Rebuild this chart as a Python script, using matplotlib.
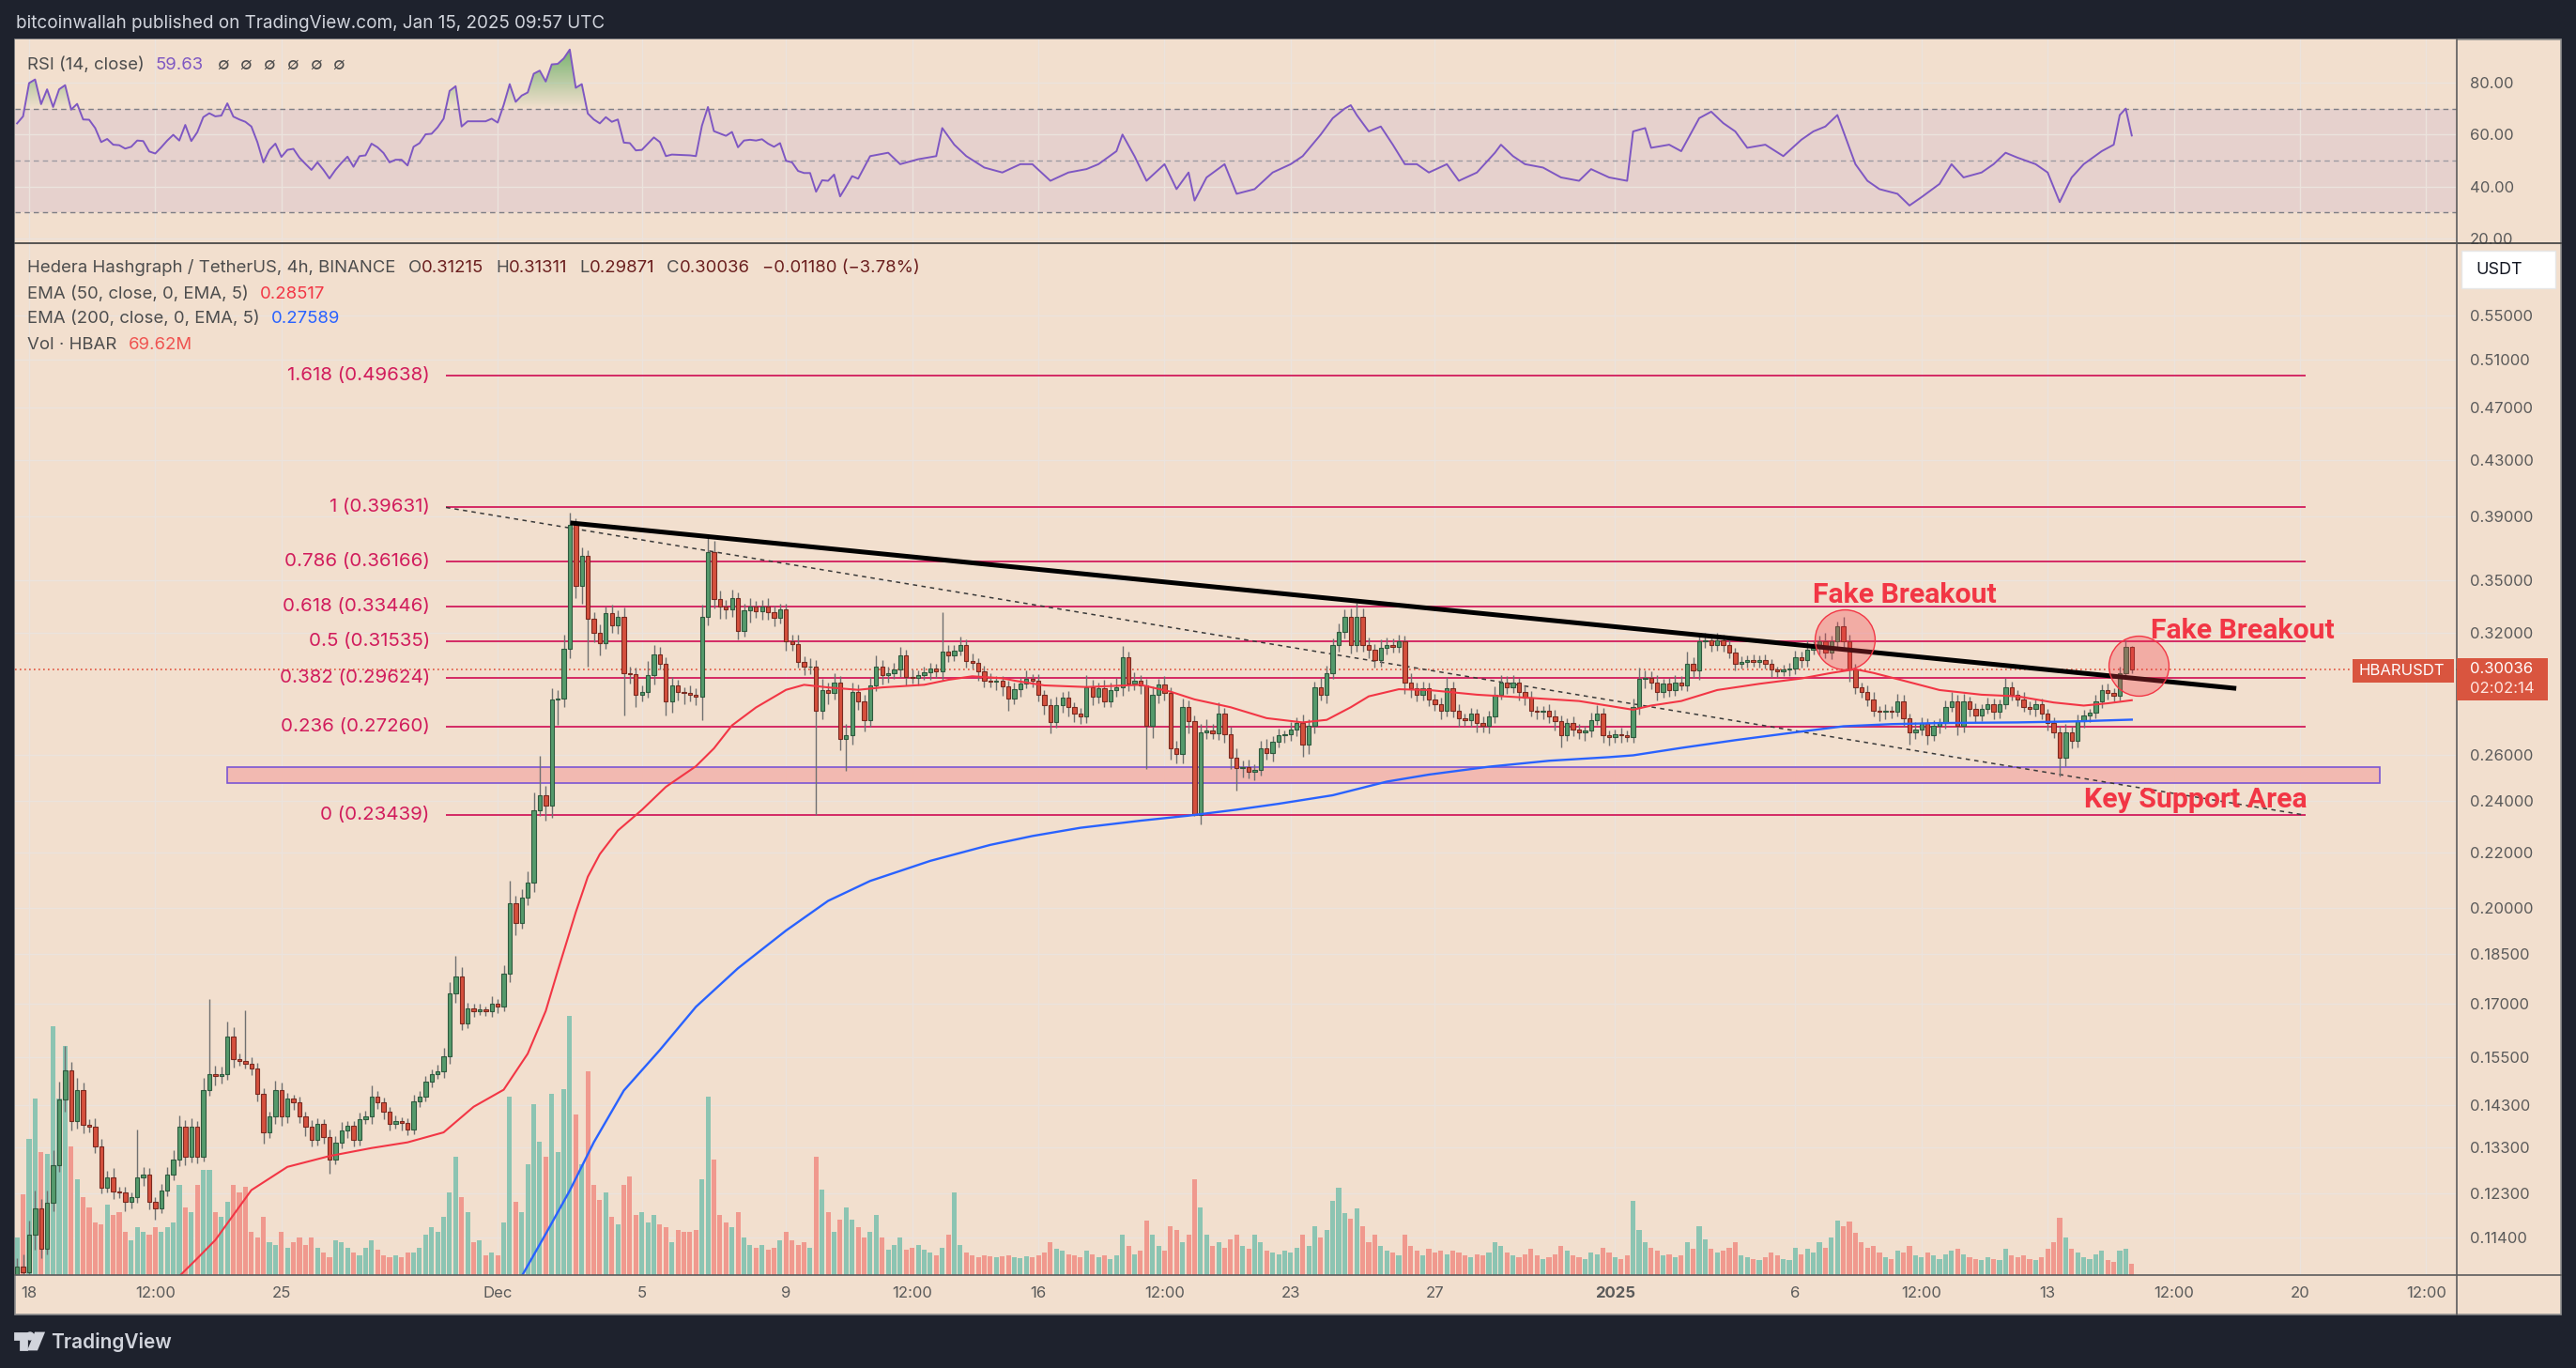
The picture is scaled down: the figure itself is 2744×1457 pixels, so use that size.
import matplotlib
matplotlib.use("Agg")
import matplotlib.pyplot as plt
import numpy as np
from matplotlib.patches import Rectangle, Polygon, Ellipse
from matplotlib.lines import Line2D
from matplotlib.path import Path
from matplotlib.colors import to_rgb

plt.rcParams['font.family'] = ['Inter', 'DejaVu Sans']

W, H, DPI = 2744, 1457, 200
BG = '#f2dfce'
DARK = '#1e222d'
GRID = '#ebe3dd'
TXT = '#4d4d4d'
AXT = '#5a5a5a'

# ---------------- data ----------------
# 4h candles, first one = Nov 17 16:00 (candle index -2), one row per day
first_index = -2
first_open = 0.1070
close = [
    0.1085, 0.1075,                                   # Nov 17
    0.1145, 0.1199, 0.1118, 0.1210, 0.1290, 0.1443,   # Nov 18
    0.1516, 0.1390, 0.1467, 0.1382, 0.1377, 0.1332,
    0.1242, 0.1264, 0.1233, 0.1231, 0.1211, 0.1221,
    0.1264, 0.1270, 0.1211, 0.1199, 0.1236, 0.1270,
    0.1303, 0.1377, 0.1309, 0.1377, 0.1309, 0.1467,
    0.1507, 0.1501, 0.1507, 0.1607, 0.1546, 0.1542,
    0.1533, 0.1520, 0.1456, 0.1365, 0.1401, 0.1467,
    0.1401, 0.1444, 0.1435, 0.1401, 0.1377, 0.1347,   # Nov 25
    0.1383, 0.1354, 0.1303, 0.1341, 0.1368, 0.1380,
    0.1347, 0.1395, 0.1401, 0.1450, 0.1435, 0.1413,
    0.1383, 0.1391, 0.1386, 0.1371, 0.1438, 0.1450,
    0.1488, 0.1507, 0.1513, 0.1553, 0.1729, 0.1781,
    0.1642, 0.1685, 0.1678, 0.1682, 0.1678, 0.1700,
    0.1690, 0.1789, 0.2018, 0.1950, 0.2036, 0.2088,   # Dec 1
    0.2365, 0.2426, 0.2381, 0.2856, 0.2861, 0.3112,
    0.3850, 0.3465, 0.3647, 0.3276, 0.3198, 0.3144,
    0.3307, 0.3241, 0.3290, 0.2988, 0.2980, 0.2879,
    0.2894, 0.2975, 0.3086, 0.3037, 0.2848, 0.2925,
    0.2894, 0.2890, 0.2880, 0.2871, 0.3290, 0.3671,
    0.3388, 0.3344, 0.3330, 0.3395, 0.3212, 0.3325,
    0.3344, 0.3322, 0.3344, 0.3313, 0.3283, 0.3330,
    0.3152, 0.3140, 0.3045, 0.3020, 0.3020, 0.2803,   # Dec 9
    0.2902, 0.2890, 0.2941, 0.2671, 0.2686, 0.2894,
    0.2848, 0.2758, 0.2925, 0.3020, 0.2975, 0.2988,
    0.3004, 0.3078, 0.2968, 0.2962, 0.2975, 0.2990,
    0.3010, 0.2995, 0.3098, 0.3080, 0.3105, 0.3132,
    0.3050, 0.3040, 0.2995, 0.2950, 0.2945, 0.2950,
    0.2920, 0.2860, 0.2905, 0.2933, 0.2957, 0.2950,
    0.2879, 0.2826, 0.2750, 0.2826, 0.2863, 0.2818,   # Dec 16
    0.2788, 0.2773, 0.2917, 0.2871, 0.2910, 0.2848,
    0.2902, 0.2917, 0.3069, 0.2933, 0.2949, 0.2925,
    0.2729, 0.2879, 0.2930, 0.2886, 0.2629, 0.2601,
    0.2818, 0.2751, 0.2344, 0.2700, 0.2707, 0.2697,
    0.2788, 0.2693, 0.2587, 0.2539, 0.2546, 0.2526,
    0.2532, 0.2629, 0.2608, 0.2657, 0.2686, 0.2689,
    0.2714, 0.2743, 0.2643, 0.2729, 0.2917, 0.2879,   # Dec 23
    0.2988, 0.3136, 0.3203, 0.3289, 0.3136, 0.3289,
    0.3136, 0.3110, 0.3053, 0.3119, 0.3136, 0.3125,
    0.3152, 0.2941, 0.2910, 0.2879, 0.2910, 0.2856,
    0.2833, 0.2803, 0.2910, 0.2803, 0.2766, 0.2758,
    0.2788, 0.2743, 0.2729, 0.2773, 0.2879, 0.2941,
    0.2917, 0.2941, 0.2894, 0.2863, 0.2803, 0.2795,
    0.2803, 0.2773, 0.2751, 0.2686, 0.2743, 0.2714,   # Dec 30
    0.2700, 0.2707, 0.2758, 0.2788, 0.2686, 0.2679,
    0.2693, 0.2686, 0.2679, 0.2818, 0.2957, 0.2965,   # Jan 1
    0.2941, 0.2894, 0.2933, 0.2902, 0.2941, 0.2925,
    0.3037, 0.3000, 0.3152, 0.3160, 0.3136, 0.3160,
    0.3136, 0.3094, 0.3037, 0.3045, 0.3053, 0.3045,
    0.3053, 0.3037, 0.3004, 0.2996, 0.3004, 0.3012,
    0.3069, 0.3053, 0.3110, 0.3119, 0.3152, 0.3094,   # Jan 6
    0.3152, 0.3238, 0.3152, 0.3004, 0.2917, 0.2894,
    0.2856, 0.2803, 0.2795, 0.2803, 0.2795, 0.2848,
    0.2766, 0.2700, 0.2714, 0.2743, 0.2686, 0.2729,
    0.2743, 0.2818, 0.2848, 0.2729, 0.2848, 0.2810,
    0.2780, 0.2810, 0.2833, 0.2795, 0.2833, 0.2917,
    0.2879, 0.2856, 0.2818, 0.2810, 0.2833, 0.2788,
    0.2743, 0.2700, 0.2587, 0.2700, 0.2660, 0.2751,   # Jan 13
    0.2780, 0.2790, 0.2845, 0.2900, 0.2890, 0.2875,
    0.2988, 0.31215, 0.30036,                         # Jan 15
]

# upper / lower wicks, per mille of the body edge
up_wick = [
    15, 20,
    25, 30, 15, 20, 25, 30,  42, 15, 20, 12, 10, 15,  12, 10, 15, 8, 10, 8,
    85, 12, 10, 8, 10, 12,  15, 20, 12, 15, 10, 20,  136, 15, 12, 25, 15, 10,
    90, 12, 10, 10, 8, 15,  12, 10, 8, 10, 8, 12,  10, 8, 12, 10, 15, 8,
    8, 12, 10, 20, 10, 8,  8, 10, 6, 8, 12, 10,  10, 8, 12, 15, 20, 36,
    15, 10, 8, 10, 6, 12,  8, 15, 39, 12, 15, 20,  30, 70, 15, 20, 15, 25,
    20, 10, 15, 10, 12, 15,  12, 15, 10, 15, 10, 12,  10, 25, 15, 12, 10, 15,
    10, 8, 12, 10, 20, 27,  20, 15, 12, 15, 10, 12,  15, 10, 12, 15, 12, 10,
    10, 12, 15, 10, 15, 12,  20, 12, 15, 10, 20, 15,  12, 10, 15, 20, 12, 10,
    12, 15, 10, 12, 8, 10,  10, 8, 70, 12, 10, 15,  10, 12, 8, 10, 12, 8,
    8, 10, 12, 10, 15, 8,  10, 8, 12, 15, 10, 12,  8, 10, 20, 12, 10, 15,
    12, 15, 20, 10, 15, 10,  12, 15, 10, 15, 10, 12,  15, 12, 10, 15, 20, 12,
    20, 10, 12, 15, 10, 12,  10, 12, 15, 10, 12, 8,  12, 10, 15, 12, 10, 15,
    12, 10, 15, 12, 15, 24,  15, 12, 10, 15, 12, 10,  12, 10, 15, 10, 12, 10,
    10, 12, 20, 12, 10, 8,  10, 8, 12, 10, 15, 12,  10, 12, 8, 10, 12, 8,
    8, 10, 12, 10, 8, 12,  10, 8, 12, 15, 10, 8,  8, 10, 8, 15, 20, 12,
    10, 12, 8, 10, 12, 10,  20, 10, 15, 12, 10, 12,  10, 12, 8, 10, 8, 10,
    8, 10, 8, 6, 8, 10,  12, 10, 15, 12, 10, 15,  10, 8, 15, 12, 10, 8,
    10, 12, 8, 10, 8, 12,  10, 8, 12, 10, 8, 10,  8, 12, 15, 10, 12, 8,
    10, 8, 12, 10, 8, 16,  10, 8, 12, 10, 8, 10,  8, 10, 12, 15, 10, 12,
    10, 8, 12, 10, 12, 8,  10, 12, 3,
]
low_wick = [
    10, 12,
    20, 25, 15, 10, 15, 12,  20, 15, 12, 15, 10, 12,  10, 8, 12, 10, 15, 10,
    10, 15, 12, 20, 8, 10,  10, 12, 15, 10, 12, 8,  10, 15, 12, 10, 15, 8,
    8, 10, 12, 20, 10, 12,  15, 10, 12, 10, 15, 12,  10, 12, 25, 8, 10, 12,
    12, 10, 8, 12, 10, 12,  10, 8, 12, 10, 8, 10,  8, 10, 8, 10, 12, 15,
    10, 8, 10, 6, 8, 10,  10, 8, 15, 20, 10, 12,  15, 10, 25, 20, 42, 15,
    15, 20, 30, 78, 15, 20,  10, 12, 15, 70, 15, 20,  12, 10, 15, 10, 25, 20,
    15, 20, 12, 15, 40, 15,  15, 20, 15, 12, 15, 10,  20, 12, 15, 12, 15, 10,
    15, 12, 10, 15, 12, 164,  15, 20, 12, 20, 54, 15,  15, 20, 12, 10, 15, 12,
    10, 12, 15, 10, 12, 8,  12, 10, 15, 12, 10, 8,  12, 10, 15, 12, 10, 15,
    15, 20, 10, 12, 8, 12,  12, 15, 20, 10, 12, 15,  15, 12, 10, 15, 12, 10,
    10, 12, 15, 12, 10, 15,  70, 20, 15, 12, 20, 15,  15, 20, 2, 15, 12, 10,
    12, 15, 20, 37, 15, 12,  15, 10, 12, 15, 10, 12,  10, 12, 20, 15, 12, 10,
    15, 10, 12, 10, 15, 12,  12, 15, 12, 10, 12, 10,  10, 20, 15, 12, 10, 12,
    12, 15, 10, 12, 15, 10,  12, 15, 10, 12, 10, 8,  12, 10, 15, 12, 10, 12,
    12, 10, 15, 20, 10, 12,  12, 15, 10, 8, 12, 15,  10, 12, 8, 10, 12, 15,
    12, 15, 10, 12, 10, 8,  10, 12, 15, 10, 12, 10,  12, 10, 12, 8, 10, 8,
    10, 8, 12, 10, 8, 10,  10, 12, 10, 8, 12, 10,  12, 10, 15, 20, 12, 10,
    12, 10, 15, 12, 10, 8,  15, 20, 12, 10, 15, 10,  12, 10, 8, 15, 10, 12,
    12, 10, 8, 12, 10, 8,  10, 12, 8, 10, 12, 10,  12, 10, 32, 15, 12, 10,
    10, 12, 8, 10, 12, 10,  8, 10, 5,
]

# volume per candle, millions HBAR
volume = [
    233, 500,
    839, 1087, 761, 746, 1538, 1087,  1414, 792, 590, 482, 419, 326,
    311, 435, 373, 388, 264, 217,  295, 264, 249, 295, 264, 295,
    326, 559, 419, 388, 559, 652,  652, 388, 357, 451, 559, 513,
    544, 264, 233, 357, 202, 186,  264, 171, 202, 233, 186, 233,
    171, 140, 109, 217, 202, 171,  140, 124, 171, 217, 155, 124,
    109, 124, 109, 140, 140, 171,  249, 295, 264, 357, 513, 730,
    482, 388, 202, 217, 124, 140,  124, 326, 1103, 451, 388, 684,
    1056, 823, 730, 1119, 761, 1150,  1600, 994, 684, 1258, 559, 466,
    513, 357, 311, 559, 606, 373,  388, 326, 373, 311, 295, 202,
    280, 264, 264, 280, 590, 1103,  715, 373, 326, 295, 388, 233,
    186, 171, 186, 155, 171, 217,  264, 217, 186, 202, 171, 730,
    528, 388, 264, 342, 419, 342,  295, 233, 264, 373, 233, 155,
    186, 233, 155, 171, 186, 155,  140, 124, 171, 249, 513, 186,
    140, 124, 109, 124, 115, 109,  115, 124, 109, 103, 115, 109,
    120, 140, 200, 160, 150, 130,  120, 110, 150, 130, 110, 120,
    100, 120, 250, 180, 130, 150,  335, 250, 180, 150, 300, 280,
    200, 250, 590, 420, 250, 180,  200, 170, 220, 250, 180, 160,
    250, 200, 150, 140, 130, 150,  140, 170, 250, 180, 300, 230,
    280, 460, 540, 380, 350, 410,  300, 200, 250, 180, 150, 140,
    120, 250, 180, 150, 120, 160,  140, 150, 130, 150, 140, 120,
    110, 130, 120, 140, 200, 180,  140, 120, 110, 130, 160, 120,
    100, 110, 130, 180, 150, 120,  110, 100, 140, 130, 170, 140,
    110, 100, 120, 460, 280, 200,  170, 150, 120, 130, 110, 120,
    200, 160, 300, 220, 160, 140,  150, 170, 200, 120, 110, 100,
    90, 110, 140, 120, 100, 90,  170, 130, 160, 140, 200, 170,
    230, 335, 300, 330, 260, 200,  170, 180, 140, 110, 100, 150,
    140, 180, 120, 110, 140, 120,  100, 130, 150, 160, 130, 110,
    100, 90, 110, 100, 90, 160,  120, 110, 120, 100, 90, 110,
    160, 200, 355, 230, 160, 140,  110, 100, 130, 150, 90, 80,
    150, 160, 70,
]

# (candle index, value)
ema50_pts = [
    (24, 0.1055), (25, 0.1067), (28, 0.1100), (31, 0.1135), (37, 0.1236), (43, 0.1286),
    (50, 0.1310), (57, 0.1328), (63, 0.1341), (69, 0.1364), (74, 0.1425), (79, 0.1467),
    (83, 0.1560), (86, 0.1678), (88, 0.1797), (91, 0.1986), (93, 0.2110), (95, 0.2193),
    (98, 0.2283), (102, 0.2365), (106, 0.2460), (111, 0.2548), (114, 0.2627), (117, 0.2732),
    (121, 0.2817), (126, 0.2903), (129, 0.2928), (133, 0.2915), (138, 0.2903), (142, 0.2915),
    (149, 0.2928), (153, 0.2953), (157, 0.2971), (162, 0.2961), (164, 0.2949), (169, 0.2925),
    (176, 0.2917), (185, 0.2928), (190, 0.2894), (194, 0.2856), (200, 0.2818), (206, 0.2766),
    (212, 0.2746), (216, 0.2758), (220, 0.2818), (223, 0.2871), (228, 0.2906), (233, 0.2902),
    (241, 0.2879), (250, 0.2863), (258, 0.2848), (267, 0.2806), (270, 0.2826), (275, 0.2848),
    (281, 0.2902), (288, 0.2933), (295, 0.2960), (300, 0.2988), (304, 0.3007), (307, 0.2988),
    (312, 0.2949), (318, 0.2902), (325, 0.2879), (331, 0.2871), (337, 0.2841), (342, 0.2826),
    (346, 0.2837), (350, 0.2852),
]
ema200_pts = [
    (81, 0.1055), (82, 0.1067), (86, 0.1147), (90, 0.1235), (94, 0.1341), (99, 0.1465),
    (105, 0.1570), (111, 0.1690), (118, 0.1805), (126, 0.1925), (133, 0.2025), (140, 0.2095),
    (150, 0.2168), (160, 0.2228), (167, 0.2262), (175, 0.2294), (185, 0.2322), (193, 0.2342),
    (201, 0.2366), (208, 0.2390), (217, 0.2425), (226, 0.2482), (233, 0.2512), (243, 0.2546),
    (253, 0.2572), (263, 0.2588), (267, 0.2596), (275, 0.2629), (284, 0.2664), (294, 0.2700),
    (302, 0.2728), (310, 0.2738), (318, 0.2743), (331, 0.2746), (341, 0.2751), (350, 0.2759),
]

# RSI(14): one value per candle for -2 .. 135, then sparser points
rsi_head = [
    64.3, 67.0, 79.8, 81.2, 71.7, 77.4, 70.6, 77.4, 79.0, 69.6,
    71.8, 65.8, 65.7, 62.5, 57.1, 58.3, 56.1, 55.9, 54.6, 55.3,
    57.7, 57.5, 53.5, 52.7, 55.1, 57.7, 59.9, 57.7, 63.7, 57.5,
    60.9, 66.7, 68.2, 67.0, 67.3, 72.0, 66.9, 65.8, 64.9, 63.1,
    57.1, 49.3, 54.1, 56.5, 51.4, 54.1, 54.5, 51.1, 48.7, 46.4,
    49.3, 46.4, 43.1, 46.4, 49.1, 51.5, 47.6, 51.7, 52.0, 56.5,
    55.1, 52.9, 49.3, 50.3, 50.3, 48.1, 55.3, 56.7, 60.1, 60.3,
    62.8, 66.1, 76.8, 78.6, 63.1, 65.1, 65.1, 65.1, 65.1, 66.1,
    64.6, 71.4, 79.4, 72.6, 75.0, 76.2, 83.4, 84.6, 80.4, 87.0,
    87.2, 89.3, 92.7, 78.0, 79.4, 68.1, 65.8, 64.3, 66.7, 64.9,
    65.8, 56.9, 56.7, 53.9, 54.1, 56.5, 58.9, 57.1, 51.7, 52.3,
    52.2, 52.1, 52.0, 51.7, 63.4, 70.6, 61.3, 60.4, 59.5, 61.0,
    55.1, 57.7, 58.0, 57.7, 58.2, 56.5, 55.3, 56.7, 49.9, 49.3,
    46.0, 45.2, 45.2, 38.0, 42.4, 42.2, 44.6, 36.2,
]
rsi_tail = [
    (136, 40.0), (137, 44.0), (138, 43.0), (140, 51.7), (143, 53.0), (145, 48.6),
    (148, 50.5), (151, 51.7), (152, 62.5), (154, 56.1), (156, 51.7), (159, 47.3),
    (162, 45.4), (165, 48.6), (167, 48.6), (170, 42.2), (173, 45.4), (176, 46.7),
    (178, 48.6), (181, 53.6), (182, 60.0), (184, 51.7), (186, 42.2), (189, 48.6),
    (191, 39.0), (193, 45.4), (194, 34.6), (196, 43.5), (199, 48.6), (201, 37.2),
    (204, 39.0), (207, 45.4), (210, 48.6), (212, 51.7), (215, 60.0), (217, 66.3),
    (219, 70.0), (220, 71.3), (221, 67.5), (223, 61.2), (225, 63.1), (227, 56.1),
    (229, 48.6), (231, 48.6), (233, 45.4), (236, 48.6), (238, 42.2), (241, 45.4),
    (244, 53.0), (245, 56.1), (247, 51.7), (249, 48.6), (252, 47.3), (255, 43.5),
    (258, 42.2), (260, 46.7), (263, 43.5), (266, 42.2), (267, 61.2), (269, 62.5),
    (270, 54.9), (273, 56.1), (275, 53.6), (278, 66.3), (280, 68.8), (282, 64.4),
    (284, 61.2), (286, 54.9), (289, 56.1), (292, 51.7), (295, 58.0), (297, 61.2),
    (299, 63.1), (301, 67.5), (304, 48.6), (306, 42.2), (308, 39.0), (311, 37.2),
    (313, 32.7), (315, 35.9), (318, 41.0), (320, 48.6), (322, 43.5), (325, 45.4),
    (327, 48.6), (329, 53.0), (331, 51.1), (334, 48.6), (336, 45.4), (338, 34.0),
    (340, 43.5), (342, 48.6), (345, 53.6), (347, 56.1), (348, 67.5), (349, 70.0),
    (350, 59.63),
]

fib_names = ['1.618', '1', '0.786', '0.618', '0.5', '0.382', '0.236', '0']
fib_prices = [0.49638, 0.39631, 0.36166, 0.33446, 0.31535, 0.29624, 0.27260, 0.23439]
fib_start, fib_end = 69.4, 378.9

trend_x = [90.1, 367.4]
trend_y = [0.3860, 0.2910]
support = (32.9, 391.3, 0.2476, 0.2545)   # x0, x1, low, high
breakouts = [(302.2, 0.3164), (351.2, 0.3027)]
notes = [('Fake Breakout', 296.9, 0.3412), ('Fake Breakout', 353.1, 0.3210),
         ('Key Support Area', 342.0, 0.2406)]
last_price = 0.30036

price_ticks = [0.114, 0.123, 0.133, 0.143, 0.155, 0.17, 0.185, 0.20, 0.22, 0.24, 0.26,
               0.32, 0.35, 0.39, 0.43, 0.47, 0.51, 0.55]
rsi_ticks = [20, 40, 60, 80]
xtick_pos = [0, 21, 42, 78, 102, 126, 147, 168, 189, 210, 234, 264, 294, 315, 336, 357, 378, 399]
xtick_lab = ['18', '12:00', '25', 'Dec', '5', '9', '12:00', '16', '12:00', '23', '27',
             '2025', '6', '12:00', '13', '12:00', '20', '12:00']

assert len(close) == len(up_wick) == len(low_wick) == len(volume) == 353

# ---------------- candles ----------------
close = np.array(close)
idx = np.arange(first_index, first_index + len(close))
opens = np.concatenate([[first_open], close[:-1]])
up = close >= opens
body_top = np.maximum(opens, close)
body_bot = np.minimum(opens, close)
high = body_top * (1 + np.array(up_wick) / 1000)
low = body_bot * (1 - np.array(low_wick) / 1000)

P_BOT, P_TOP = 0.10692, 0.6222
VOL_TOP = 6371
XMIN, XMAX = -2.34, 404.1


def fpx(x, y):
    return x / W, 1 - y / H


fig = plt.figure(figsize=(W / DPI, H / DPI), dpi=DPI)
fig.patch.set_facecolor(DARK)
fig.add_artist(Rectangle(fpx(16, 1400), 2712 / W, 1358 / H, transform=fig.transFigure,
                         facecolor=BG, edgecolor='#8f8f8f', lw=0.6, zorder=-1))

ax_rsi = fig.add_axes([16 / W, 1 - 259 / H, 2601 / W, 217 / H])
ax = fig.add_axes([16 / W, 1 - 1358 / H, 2601 / W, 1099 / H], sharex=ax_rsi)
ax_vol = ax.twinx()
ax_rsi.set_zorder(0)
ax_vol.set_zorder(1)
ax.set_zorder(2)
ax.patch.set_visible(False)
ax_vol.patch.set_visible(True)
ax_vol.patch.set_facecolor(BG)
ax_rsi.set_facecolor(BG)
for a in (ax, ax_vol, ax_rsi):
    for s in a.spines.values():
        s.set_visible(False)

ax.set_yscale('log')

# grid + volume (in the bottom layer)
for x in xtick_pos:
    ax_vol.axvline(x, color=GRID, lw=0.5, zorder=0)
    ax_rsi.axvline(x, color=GRID, lw=0.5, zorder=0.5)
for p in price_ticks:
    ax_vol.plot([0, 1], [p, p], transform=ax.get_yaxis_transform(), color=GRID, lw=0.5, zorder=0)
vcol = np.where(up, '#8cc4b2', '#f0998e')
ax_vol.bar(idx, volume, width=0.8, color=vcol, linewidth=0, zorder=1)
ax_vol.set_ylim(0, VOL_TOP)
ax_vol.set_yticks([])

# support zone, fib levels, diagonals
x0, x1, lo, hi = support
ax.add_patch(Rectangle((x0, lo), x1 - x0, hi - lo, facecolor='#f2b9b1', edgecolor='#7b55d3',
                       lw=0.6, zorder=1.5))
FIB = '#d11c5c'
ax.hlines(fib_prices, fib_start, fib_end, colors=FIB, lw=0.65, zorder=2)
for name, p in zip(fib_names, fib_prices):
    ax.text(66.7, p, f'{name} ({p:.5f})', ha='right', va='center', color=FIB, fontsize=7.4, zorder=7)
ax.plot([fib_start, fib_end], [fib_prices[1], fib_prices[-1]], color='#3a3a3a', lw=0.55,
        ls=(0, (3, 3)), zorder=2.5)
ax.axhline(last_price, color='#e0533f', lw=0.6, ls=(0, (1, 2)), zorder=2.4)

ax.vlines(idx, low, high, colors='#707070', lw=0.5, zorder=3.5)
ax.bar(idx, body_top - body_bot, width=0.68, bottom=body_bot,
       color=np.where(up, '#559a6c', '#d5503d'),
       edgecolor=np.where(up, '#2f5a3e', '#7a2a20'), linewidth=0.4, zorder=4)

ex, ev = zip(*ema50_pts)
ax.plot(ex, ev, color='#f23645', lw=0.75, zorder=4.5)
ex, ev = zip(*ema200_pts)
ax.plot(ex, ev, color='#2962ff', lw=0.85, zorder=4.5)

ax.plot(trend_x, trend_y, color='black', lw=1.8, solid_capstyle='butt', zorder=5)
for bx, by in breakouts:
    ax.plot([bx], [by], 'o', ms=23, mfc=(0.949, 0.212, 0.271, 0.3), mec='#f23645', mew=0.5, zorder=6)
for s, tx, ty in notes:
    ax.text(tx, ty, s, ha='left', va='center', color='#f23645', fontsize=10.9, fontweight='bold',
            family=['Roboto', 'DejaVu Sans'], zorder=7)

ax.set_ylim(P_BOT, P_TOP)
ax.yaxis.tick_right()
ax.yaxis.set_major_locator(matplotlib.ticker.FixedLocator(price_ticks))
ax.yaxis.set_minor_locator(matplotlib.ticker.NullLocator())
ax.yaxis.set_major_formatter(matplotlib.ticker.FormatStrFormatter('%.5f'))
ax.tick_params(axis='y', length=0, pad=5, labelsize=6, labelcolor=AXT)
ax.set_xticks(xtick_pos)
ax.set_xticklabels(xtick_lab)
ax.tick_params(axis='x', length=0, pad=4.3, labelsize=6, labelcolor=AXT)
ax.get_xticklabels()[xtick_lab.index('2025')].set_fontweight('bold')

# ---------------- RSI ----------------
rx = np.array(list(range(first_index, 136)) + [p[0] for p in rsi_tail], float)
rv = np.array(rsi_head + [p[1] for p in rsi_tail])
ax_rsi.axhspan(30, 70, color='#e6d1cd', zorder=0.2, lw=0)
for v in rsi_ticks:
    ax_rsi.axhline(v, color=GRID, lw=0.5, zorder=0.5)
ax_rsi.axhline(70, color='#7d7d84', lw=0.5, ls=(0, (4, 3)), zorder=1)
ax_rsi.axhline(30, color='#7d7d84', lw=0.5, ls=(0, (4, 3)), zorder=1)
ax_rsi.axhline(50, color='#9d9aa2', lw=0.5, ls=(0, (4, 3)), zorder=1)
fill = ax_rsi.fill_between(rx, 70, rv, where=rv > 70, interpolate=True, facecolor='none', edgecolor='none')
clip = Path.make_compound_path(*fill.get_paths())
grad = np.zeros((64, 2, 4))
grad[..., :3] = to_rgb('#43a047')
grad[..., 3] = np.linspace(0.0, 0.7, 64)[:, None]
im = ax_rsi.imshow(grad, extent=[rx[0], rx[-1], 70, 93], origin='lower', aspect='auto',
                   interpolation='bilinear', zorder=1.5)
im.set_clip_path(clip, transform=ax_rsi.transData)
ax_rsi.plot(rx, rv, color='#7e57c2', lw=0.7, zorder=2)
ax_rsi.set_ylim(18.2, 96.6)
ax_rsi.yaxis.tick_right()
ax_rsi.set_yticks(rsi_ticks)
ax_rsi.yaxis.set_major_formatter(matplotlib.ticker.FormatStrFormatter('%.2f'))
ax_rsi.tick_params(axis='y', length=0, pad=5, labelsize=6, labelcolor=AXT)
ax_rsi.tick_params(axis='x', length=0, labelbottom=False)

ax.set_xlim(XMIN, XMAX)

# ---------------- frame, separators, labels ----------------
def hline_px(y, x0, x1, color, lw):
    fig.add_artist(Line2D([x0 / W, x1 / W], [1 - y / H, 1 - y / H], transform=fig.transFigure,
                          color=color, lw=lw, zorder=10))


hline_px(259, 16, 2728, '#3c3c3c', 0.6)
hline_px(1358, 16, 2728, '#5c5c5c', 0.6)
fig.add_artist(Line2D([2617 / W, 2617 / W], [1 - 1400 / H, 1 - 42 / H], transform=fig.transFigure,
                      color='#5c5c5c', lw=0.6, zorder=10))

# last price tags
fig.add_artist(Rectangle(fpx(2617, 746), 97 / W, 45 / H, transform=fig.transFigure,
                         facecolor='#d9553f', edgecolor='none', zorder=10))
fig.text(2631 / W, 1 - 713 / H, '0.30036', color='white', fontsize=6, va='center', zorder=11)
fig.text(2631 / W, 1 - 734 / H, '02:02:14', color='#ffe6e0', fontsize=6, va='center', zorder=11)
fig.add_artist(Rectangle(fpx(2506, 727), 108 / W, 25 / H, transform=fig.transFigure,
                         facecolor='#d9553f', edgecolor='none', zorder=10))
fig.text(2513 / W, 1 - 714.5 / H, 'HBARUSDT', color='white', fontsize=6, va='center', zorder=11)
fig.add_artist(Rectangle(fpx(2622, 307), 100 / W, 40 / H, transform=fig.transFigure,
                         facecolor='white', edgecolor='#e6e6e6', lw=0.5, zorder=10))
fig.text(2637 / W, 1 - 287 / H, 'USDT', color='#131722', fontsize=6.5, va='center', zorder=11)

renderer = fig.canvas.get_renderer()


def text_row(x, y, parts, size=6.7):
    for s, col, gap in parts:
        t = fig.text(x / W, 1 - y / H, s, color=col, fontsize=size, va='center', zorder=11)
        x += t.get_window_extent(renderer=renderer).width + gap


fig.text(17 / W, 1 - 25 / H, 'bitcoinwallah published on TradingView.com, Jan 15, 2025 09:57 UTC',
         color='#d1d4dc', fontsize=6.8, va='center')
text_row(29, 69, [('RSI (14, close)', TXT, 12), ('59.63', '#7e57c2', 14)] + [('∅', TXT, 12)] * 6)
MAR = '#6b1f1f'
text_row(29, 285, [('Hedera Hashgraph / TetherUS, 4h, BINANCE', TXT, 13),
                   ('O', TXT, 0), ('0.31215', MAR, 13), ('H', TXT, 0), ('0.31311', MAR, 13),
                   ('L', TXT, 0), ('0.29871', MAR, 13), ('C', TXT, 0), ('0.30036', MAR, 13),
                   ('−0.01180 (−3.78%)', MAR, 0)])
text_row(29, 313, [('EMA (50, close, 0, EMA, 5)', TXT, 12), ('0.28517', '#f23645', 0)])
text_row(29, 339, [('EMA (200, close, 0, EMA, 5)', TXT, 12), ('0.27589', '#2962ff', 0)])
text_row(29, 367, [('Vol · HBAR', TXT, 12), ('69.62M', '#ef5350', 0)])

# TradingView mark at the bottom
LOGO = '#d1d4dc'
fig.add_artist(Polygon([fpx(16, 1420), fpx(28, 1420), fpx(28, 1437), fpx(22, 1437), fpx(22, 1426),
                        fpx(16, 1426)], closed=True, transform=fig.transFigure, color=LOGO))
fig.add_artist(Ellipse(fpx(32, 1423), 6.5 / W, 6.5 / H, transform=fig.transFigure, color=LOGO))
fig.add_artist(Polygon([fpx(38, 1420), fpx(46, 1420), fpx(39, 1437), fpx(31, 1437)], closed=True,
                       transform=fig.transFigure, color=LOGO))
fig.text(54 / W, 1 - 1429 / H, 'TradingView', color=LOGO, fontsize=7.5, fontweight='semibold',
         va='center')

fig.savefig('out.png', dpi=DPI, facecolor=DARK)
